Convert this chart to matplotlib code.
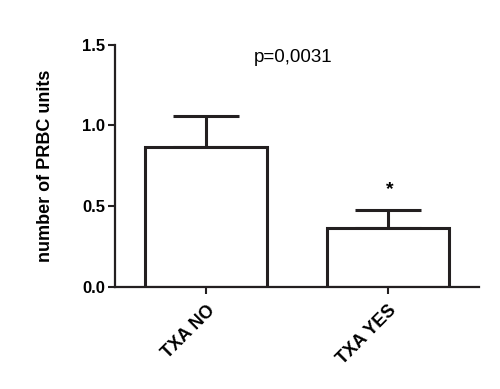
import matplotlib.pyplot as plt
import numpy as np

plt.rcParams['font.family'] = ['Liberation Sans', 'DejaVu Sans']

groups = ["TXA NO", "TXA YES"]
means = [0.864, 0.366]
sem = [0.194, 0.108]
p_text = "p=0,0031"

fig = plt.figure(figsize=(5, 3.89), dpi=100)
ax = fig.add_axes([0.23, 0.263, 0.728, 0.622])

x = np.arange(len(groups))
ax.bar(x, means, width=0.67, color="white", edgecolor="#231f20", linewidth=2.2, zorder=2)
ax.errorbar(x, means, yerr=[np.zeros(len(sem)), sem], fmt="none", ecolor="#231f20",
            elinewidth=2.2, capsize=23.5, capthick=2.2, zorder=1)

ax.set_xlim(-0.503, 1.503)
ax.set_ylim(0, 1.5)
ax.set_yticks([0.0, 0.5, 1.0, 1.5])
ax.set_yticklabels(["0.0", "0.5", "1.0", "1.5"], fontweight="bold", fontsize=12)
ax.set_xticks(x)
ax.set_xticklabels(groups, rotation=45, ha="right", rotation_mode="anchor",
                   fontweight="bold", fontsize=13)
ax.tick_params(axis="both", width=1.5, length=5, color="#231f20", pad=2)
ax.tick_params(axis="x", pad=6)

for side in ["top", "right"]:
    ax.spines[side].set_visible(False)
for side in ["left", "bottom"]:
    ax.spines[side].set_linewidth(1.6)
    ax.spines[side].set_color("#231f20")

ax.set_ylabel("number of PRBC units", fontweight="bold", fontsize=13, labelpad=20)

ax.text(0.48, 1.42, p_text, ha="center", va="center", fontsize=13.5)
ax.text(1.01, 0.60, "*", ha="center", va="center", fontsize=14, fontweight="bold")

fig.savefig("out.png", dpi=100)
